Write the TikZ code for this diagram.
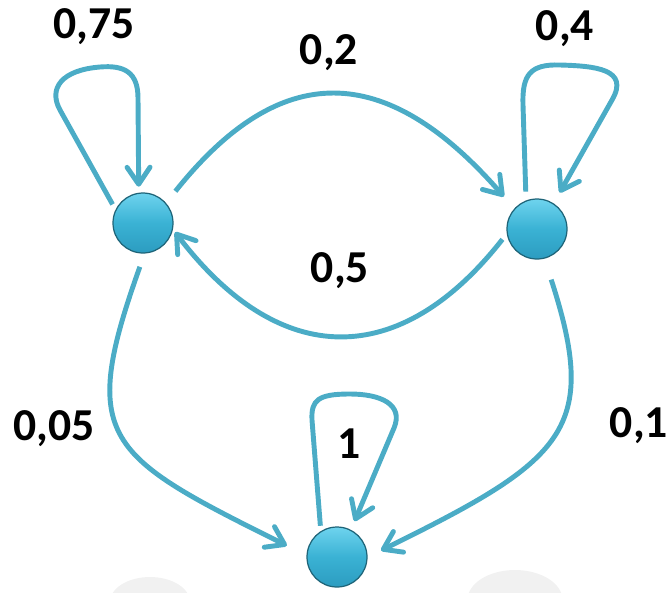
\documentclass[tikz,border=0pt]{standalone}
\usepackage{fontspec}
\setmainfont{Carlito}
\usetikzlibrary{arrows.meta}
\definecolor{arco}{HTML}{4BACC6}
\definecolor{bolatop}{HTML}{6ED3EE}
\definecolor{bolamid}{HTML}{3AB2D4}
\definecolor{bolabot}{HTML}{2C9CC0}
\definecolor{bolaedge}{HTML}{1E6478}
\definecolor{sombra}{HTML}{F1F1F1}

\begin{document}
\begin{tikzpicture}[
  x=0.02cm,y=-0.02cm,
  bola/.style={circle,minimum size=1.2cm,inner sep=0pt,draw=bolaedge,line width=0.7pt,
    top color=bolatop,bottom color=bolabot,middle color=bolamid},
  arr/.style={-{Straight Barb[length=3.4mm,width=4.6mm,round]},arco,line width=2.8pt},
  prob/.style={font=\fontsize{26}{30}\selectfont\bfseries,anchor=base,inner sep=0pt}
]
\useasboundingbox (0,0) rectangle (669,592);
% reflejos
\fill[sombra] (150,602) ellipse [x radius=0.8cm,y radius=0.5cm];
\fill[sombra] (515,600) ellipse [x radius=0.95cm,y radius=0.6cm];
% estados
\node[bola] (s1) at (143,223) {};
\node[bola] (s2) at (537,229) {};
\node[bola] (s3) at (337,557) {};
% probabilidades
\node[prob] (p11) at (94,38) {0,75};
\node[prob] (p12) at (329,64) {0,2};
\node[prob] (p22) at (565,40) {0,4};
\node[prob] (p21) at (340,282) {0,5};
\node[prob] (p13) at (54,440) {0,05};
\node[prob] (p23) at (639,437) {0,1};
\node[prob] (p33) at (349,458) {1};

% lazos
\draw[arr,shorten <=3.4pt,shorten >=3.4pt] (s1.154) -- (60,110)
  .. controls (48,88) and (62,70) .. (100,67)
  .. controls (124,65) and (138,72) .. (138,98) -- (s1.98);
\draw[arr,shorten <=5pt,shorten >=7pt] (s2.111) -- (523,105)
  .. controls (522,75) and (530,64) .. (560,65)
  .. controls (595,66) and (630,69) .. (612,100) -- (s2.57);
\draw[arr,shorten <=3pt,shorten >=5.3pt] (s3.122) -- (312,420)
  .. controls (311,400) and (318,394) .. (350,394)
  .. controls (380,394) and (404,404) .. (394,428) -- (s3.63);
% transiciones
\draw[arr,shorten <=8.5pt,shorten >=9pt] (s1.41) .. controls (280,60) and (385,60) .. (s2.138);
\draw[arr,shorten <=4pt,shorten >=2pt] (s2.189) .. controls (400,370) and (280,370) .. (s1.-12);
\draw[arr,shorten <=8pt,shorten >=12.5pt] (s1.-87) .. controls (78,440) and (105,455) .. (s3.177);
\draw[arr,shorten <=12.5pt,shorten >=8.5pt] (s2.-76) .. controls (600,430) and (565,460) .. (s3.0);
\end{tikzpicture}
\end{document}
